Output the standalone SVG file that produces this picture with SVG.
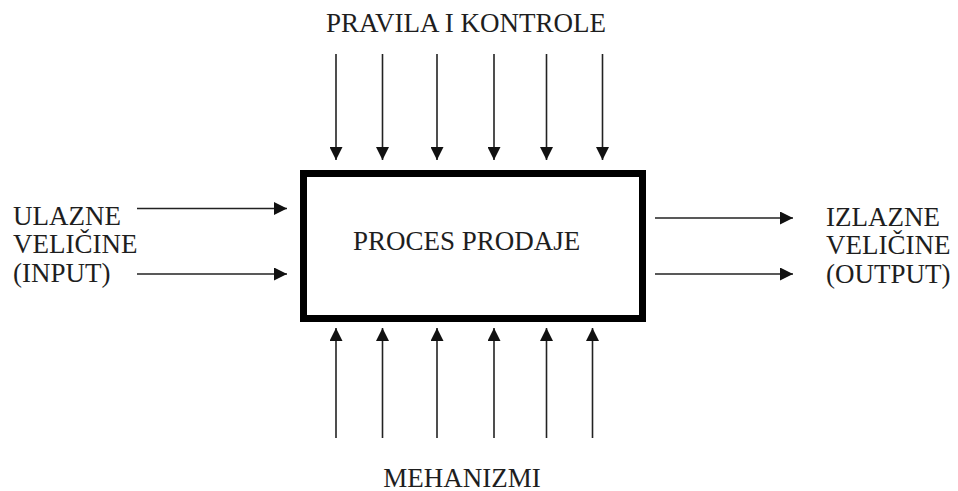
<svg xmlns="http://www.w3.org/2000/svg" width="958" height="491" viewBox="0 0 958 491">
<style>
text{font-family:"Liberation Serif","Times New Roman",serif;font-size:27px;fill:#1e1e1e}
.c{stroke:#222;stroke-width:1.6;fill:none}
</style>
<defs>
<marker id="ah" markerUnits="userSpaceOnUse" markerWidth="13" markerHeight="13" refX="13" refY="6.5" orient="auto">
<path d="M0,0 L13,6.5 L0,13 z" fill="#111"/>
</marker>
</defs>
<rect width="958" height="491" fill="#fff"/>
<g id="proces">
<rect x="303.5" y="173.5" width="339" height="145" fill="#fff" stroke="#000" stroke-width="7"/>
<text x="466.7" y="250" text-anchor="middle">PROCES PRODAJE</text>
</g>
<g id="pravila">
<text x="466" y="32" text-anchor="middle">PRAVILA I KONTROLE</text>
</g>
<g id="ulaz">
<text x="13" y="224.5">ULAZNE</text>
<text x="13" y="253">VELIČINE</text>
<text x="13" y="281.5">(INPUT)</text>
</g>
<g id="izlaz">
<text x="826" y="225.5">IZLAZNE</text>
<text x="826" y="254">VELIČINE</text>
<text x="826" y="282.5">(OUTPUT)</text>
</g>
<g id="mehanizmi">
<text x="462" y="486.5" text-anchor="middle">MEHANIZMI</text>
</g>
<g id="connectors" class="c">
<line class="c" x1="336" y1="54" x2="336" y2="160" marker-end="url(#ah)"/>
<line class="c" x1="382.5" y1="54" x2="382.5" y2="160" marker-end="url(#ah)"/>
<line class="c" x1="437" y1="54" x2="437" y2="160" marker-end="url(#ah)"/>
<line class="c" x1="494" y1="54" x2="494" y2="160" marker-end="url(#ah)"/>
<line class="c" x1="546.5" y1="54" x2="546.5" y2="160" marker-end="url(#ah)"/>
<line class="c" x1="602.5" y1="54" x2="602.5" y2="160" marker-end="url(#ah)"/>
<line class="c" x1="336" y1="438" x2="336" y2="328" marker-end="url(#ah)"/>
<line class="c" x1="382.5" y1="438" x2="382.5" y2="328" marker-end="url(#ah)"/>
<line class="c" x1="437" y1="438" x2="437" y2="328" marker-end="url(#ah)"/>
<line class="c" x1="494" y1="438" x2="494" y2="328" marker-end="url(#ah)"/>
<line class="c" x1="546.5" y1="438" x2="546.5" y2="328" marker-end="url(#ah)"/>
<line class="c" x1="592.5" y1="438" x2="592.5" y2="328" marker-end="url(#ah)"/>
<line class="c" x1="137" y1="208.5" x2="287" y2="208.5" marker-end="url(#ah)"/>
<line class="c" x1="137" y1="274" x2="287" y2="274" marker-end="url(#ah)"/>
<line class="c" x1="655" y1="218" x2="793" y2="218" marker-end="url(#ah)"/>
<line class="c" x1="655" y1="274" x2="793" y2="274" marker-end="url(#ah)"/>
</g>
</svg>
